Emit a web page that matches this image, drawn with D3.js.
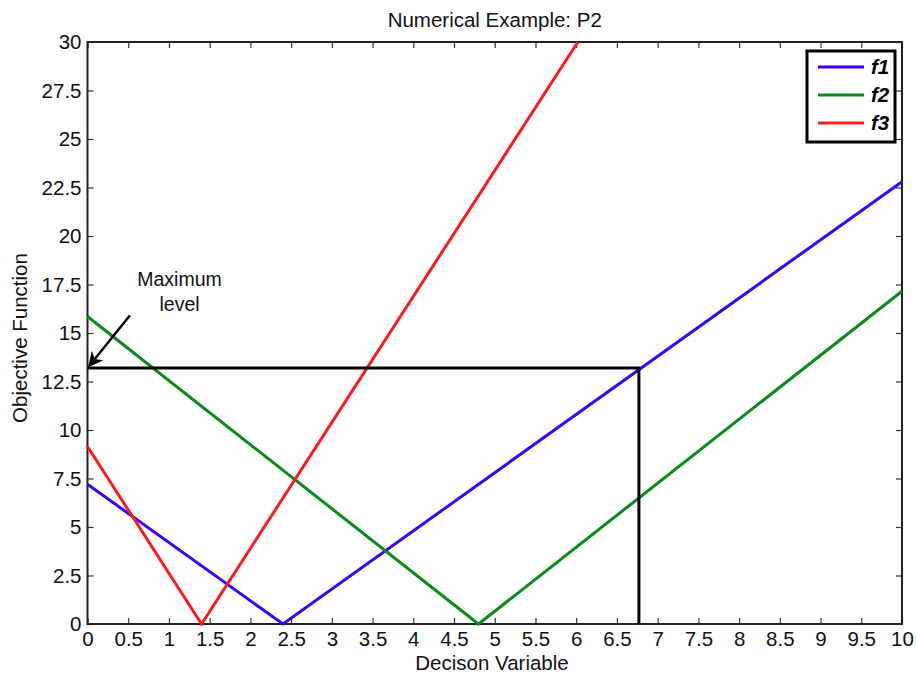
<!DOCTYPE html>
<meta charset="utf-8">
<body style="margin:0;background:#fff">
<script src="https://d3js.org/d3.v7.min.js"></script>
<script>
// line vertices (x, y)
var f1X = [0, 2.4, 10];
var f1Y = [7.2, 0, 22.8];
var f2X = [0, 4.8, 10];
var f2Y = [15.85, 0, 17.15];
var f3X = [0, 1.4, 6.02];
var f3Y = [9.15, 0, 30];
var maxLevel = 13.2;     // horizontal black line
var maxX = 6.77;         // vertical black line
var xTicks = d3.range(0, 10.01, 0.5);
var yTicks = d3.range(0, 30.01, 2.5);
var seriesNames = ["f1", "f2", "f3"];
var seriesColors = ["#3a00ff", "#0a8a1e", "#ff1a1a"];

var W = 916, H = 677;
var m = {left: 87.5, right: 14, top: 42, bottom: 53};
var FS = 20.5;

var svg = d3.select("body").append("svg")
	.attr("width", W).attr("height", H)
	.style("font-family", "Liberation Sans, Arial, sans-serif");

var x = d3.scaleLinear().domain([0, 10]).range([m.left, W - m.right]);
var y = d3.scaleLinear().domain([0, 30]).range([H - m.bottom, m.top]);

var fmt = function(d){ return d3.format("")(d); };

// axes: ticks inside, mirrored on top and right
var gx = svg.append("g").attr("transform", "translate(0," + y(0) + ")")
	.call(d3.axisBottom(x).tickValues(xTicks).tickSize(-6).tickPadding(10).tickFormat(fmt));
var gxt = svg.append("g").attr("transform", "translate(0," + y(30) + ")")
	.call(d3.axisTop(x).tickValues(xTicks).tickSize(-6).tickFormat(""));
var gy = svg.append("g").attr("transform", "translate(" + x(0) + ",0)")
	.call(d3.axisLeft(y).tickValues(yTicks).tickSize(-6).tickPadding(6).tickFormat(fmt));
var gyr = svg.append("g").attr("transform", "translate(" + x(10) + ",0)")
	.call(d3.axisRight(y).tickValues(yTicks).tickSize(-6).tickFormat(""));

[gx, gxt, gy, gyr].forEach(function(g){
	g.select(".domain").remove();
	g.selectAll("line").attr("stroke", "#333").attr("stroke-width", 1.2);
	g.selectAll("text").attr("font-size", FS).attr("fill", "#111")
		.style("font-family", "Liberation Sans, Arial, sans-serif");
});
gx.selectAll("text").attr("dy", "0.6em");

// frame
svg.append("rect")
	.attr("x", x(0)).attr("y", y(30))
	.attr("width", x(10) - x(0)).attr("height", y(0) - y(30))
	.attr("fill", "none").attr("stroke", "#222").attr("stroke-width", 2);

// series
var line = d3.line().x(function(d){ return x(d[0]); }).y(function(d){ return y(d[1]); });
var series = [d3.zip(f1X, f1Y), d3.zip(f2X, f2Y), d3.zip(f3X, f3Y)];
series.forEach(function(s, i){
	svg.append("path").datum(s)
		.attr("d", line)
		.attr("fill", "none")
		.attr("stroke", seriesColors[i])
		.attr("stroke-width", 3);
});

// maximum level lines
svg.append("path")
	.datum([[0, maxLevel], [maxX, maxLevel], [maxX, 0]])
	.attr("d", line)
	.attr("fill", "none").attr("stroke", "#000").attr("stroke-width", 3);

// arrow + annotation
svg.append("defs").append("marker")
	.attr("id", "arr").attr("viewBox", "0 0 10 10")
	.attr("refX", 9).attr("refY", 5)
	.attr("markerWidth", 6).attr("markerHeight", 6)
	.attr("orient", "auto")
	.append("path").attr("d", "M0,0 L10,5 L0,10 L3,5 z").attr("fill", "#000");
svg.append("line")
	.attr("x1", x(0.52)).attr("y1", y(15.9))
	.attr("x2", x(0.02)).attr("y2", y(13.3))
	.attr("stroke", "#000").attr("stroke-width", 2.5)
	.attr("marker-end", "url(#arr)");
svg.append("text").attr("x", x(1.13)).attr("y", 286)
	.attr("text-anchor", "middle").attr("font-size", FS - 1).attr("fill", "#111")
	.text("Maximum");
svg.append("text").attr("x", x(1.13)).attr("y", 311)
	.attr("text-anchor", "middle").attr("font-size", FS - 1).attr("fill", "#111")
	.text("level");

// titles
svg.append("text").attr("x", (x(0) + x(10)) / 2).attr("y", 27)
	.attr("text-anchor", "middle").attr("font-size", FS).attr("fill", "#111")
	.text("Numerical Example: P2");
svg.append("text").attr("x", 492).attr("y", 670)
	.attr("text-anchor", "middle").attr("font-size", FS).attr("fill", "#111")
	.text("Decison Variable");
svg.append("text")
	.attr("transform", "translate(27,338) rotate(-90)")
	.attr("text-anchor", "middle").attr("font-size", FS).attr("fill", "#111")
	.text("Objective Function");

// legend
var lg = svg.append("g").attr("transform", "translate(807,51)");
lg.append("rect").attr("width", 88).attr("height", 91)
	.attr("fill", "#fff").attr("stroke", "#000").attr("stroke-width", 3);
seriesNames.forEach(function(n, i){
	var yy = 16 + i * 28;
	lg.append("line").attr("x1", 11).attr("x2", 57).attr("y1", yy).attr("y2", yy)
		.attr("stroke", seriesColors[i]).attr("stroke-width", 3);
	lg.append("text").attr("x", 64).attr("y", yy + 7)
		.attr("font-size", FS).attr("font-weight", "bold").attr("font-style", "italic")
		.attr("fill", "#000").text(n);
});
</script>
</body>
